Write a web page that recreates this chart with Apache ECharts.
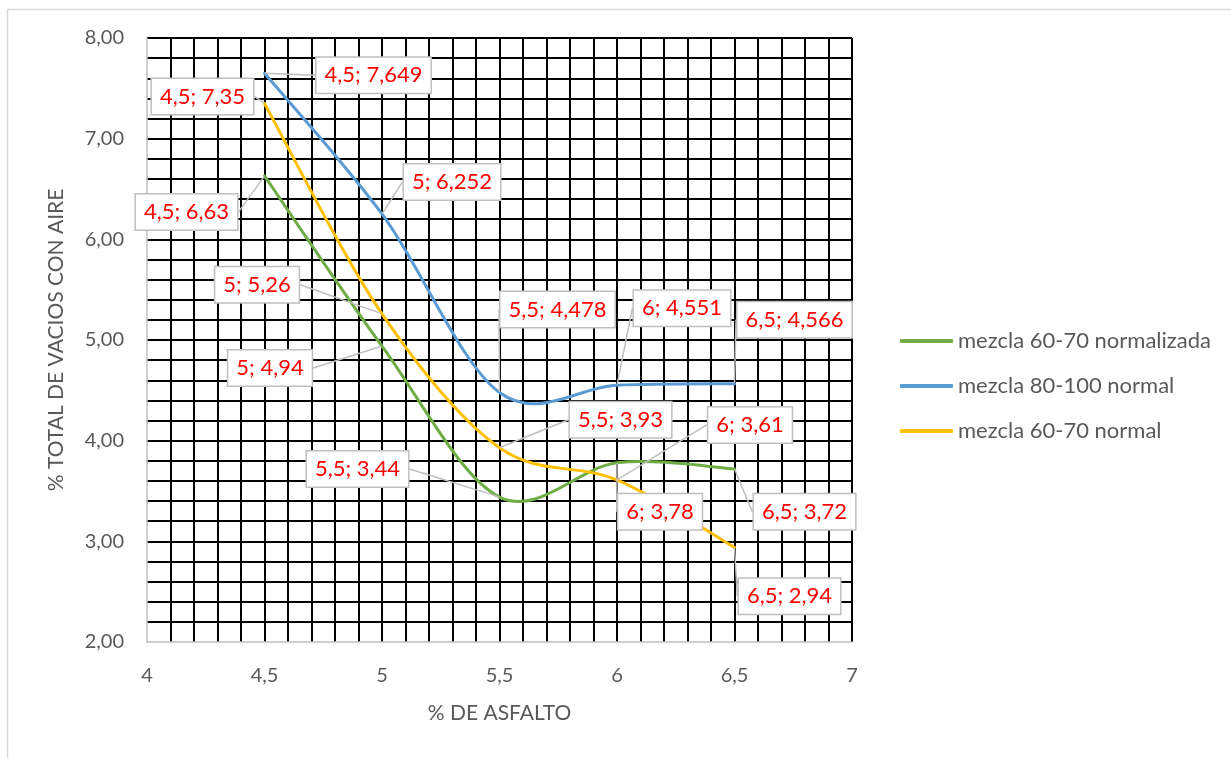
<!DOCTYPE html>
<html><head><meta charset="utf-8">
<script src="https://cdn.jsdelivr.net/npm/echarts@6/dist/echarts.min.js"></script>
<style>html,body{margin:0;padding:0;background:#fff}#c{width:1231px;height:758px}</style>
</head><body><div id="c"></div>
<script>
// ---- data ----
const asfalto = [4.5, 5, 5.5, 6, 6.5];
const seriesNames = ['mezcla 60-70 normalizada', 'mezcla 80-100 normal', 'mezcla 60-70 normal'];
const normalizada6070 = [6.63, 4.94, 3.44, 3.78, 3.72];
const normal80100 = [7.649, 6.252, 4.478, 4.551, 4.566];
const normal6070 = [7.35, 5.26, 3.93, 3.61, 2.94];
const xTicks = [4, 4.5, 5, 5.5, 6, 6.5, 7];
const yTicks = [2, 3, 4, 5, 6, 7, 8];

// label callout offsets (px, label centre relative to point) - layout only
const labelOffsets = [
  [[-78, 36], [-112, 22], [-142, -28], [43, 49], [70, 43]],
  [[109, 2], [70, -32], [58, -83], [65, -77], [60, -64]],
  [[-62, -7], [-125, -29], [121, -28], [133, -55], [55, 49]]
];
const colors = ['#70ad47', '#5b9bd5', '#ffc000'];
const FONT = 'Lato';
const TXT = '#595959';
const comma = v => String(v).replace('.', ',');

// Excel-style smoothed line (Catmull-Rom bezier) through points mapped by the axes
function smoothPath(pts) {
  let d = 'M' + pts[0][0] + ' ' + pts[0][1];
  for (let i = 0; i < pts.length - 1; i++) {
    const p0 = pts[i - 1] || pts[i], p1 = pts[i], p2 = pts[i + 1], p3 = pts[i + 2] || pts[i + 1];
    const c1 = [p1[0] + (p2[0] - p0[0]) / 6, p1[1] + (p2[1] - p0[1]) / 6];
    const c2 = [p2[0] - (p3[0] - p1[0]) / 6, p2[1] - (p3[1] - p1[1]) / 6];
    d += ' C' + c1.join(' ') + ' ' + c2.join(' ') + ' ' + p2.join(' ');
  }
  return d;
}

function curve(i, vals) {
  return {
    name: seriesNames[i], type: 'custom', silent: true, clip: false, z: 2,
    data: asfalto.map((x, k) => [x, vals[k]]),
    renderItem: (params, api) => {
      if (params.dataIndex !== 0) return null;
      const pts = asfalto.map((x, k) => api.coord([x, vals[k]]));
      return { type: 'path', shape: { pathData: smoothPath(pts) },
        style: { fill: 'none', stroke: colors[i], lineWidth: 3, lineCap: 'round' } };
    },
    itemStyle: { color: colors[i] }
  };
}

function labels(i, vals) {
  return {
    name: seriesNames[i], type: 'line',
    data: asfalto.map((x, k) => [x, vals[k]]),
    symbol: 'circle', symbolSize: 1, showSymbol: true,
    lineStyle: { width: 0, opacity: 0 },
    itemStyle: { color: colors[i] },
    emphasis: { disabled: true },
    label: {
      show: true, color: '#ff0000', fontFamily: FONT, fontSize: 22,
      backgroundColor: '#fff', borderColor: '#bfbfbf', borderWidth: 1.5,
      padding: [7, 8, 6, 8],
      formatter: p => comma(p.value[0]) + '; ' + comma(p.value[1])
    },
    labelLine: { show: true, lineStyle: { color: '#bfbfbf', width: 1.5 } },
    labelLayout: p => {
      const o = labelOffsets[i][p.dataIndex];
      return {
        x: p.rect.x + p.rect.width / 2 + o[0],
        y: p.rect.y + p.rect.height / 2 + o[1],
        align: 'center', verticalAlign: 'middle'
      };
    },
    z: 4
  };
}

const chart = echarts.init(document.getElementById('c'));
chart.setOption({
  animation: false,
  backgroundColor: '#fff',
  graphic: [{ type: 'rect', shape: { x: 7.5, y: 9.5, width: 1240, height: 760 },
    style: { fill: 'none', stroke: '#d9d9d9', lineWidth: 1.5 }, z: -1 }],
  grid: { left: 147, top: 38, width: 705, height: 604 },
  legend: {
    orient: 'vertical', left: 895, top: 325,
    itemWidth: 53, itemHeight: 4, itemGap: 23, icon: 'roundRect',
    itemStyle: { opacity: 1 },
    textStyle: { color: TXT, fontFamily: FONT, fontSize: 22, lineHeight: 22 },
    data: seriesNames
  },
  xAxis: {
    type: 'value', min: xTicks[0], max: xTicks[xTicks.length - 1], interval: 0.5,
    name: '% DE ASFALTO', nameLocation: 'middle', nameGap: 61,
    nameTextStyle: { color: TXT, fontFamily: FONT, fontSize: 21 },
    axisLine: { show: true, lineStyle: { color: '#bfbfbf', width: 1.5 } },
    axisTick: { show: false },
    axisLabel: { color: TXT, fontFamily: FONT, fontSize: 20, margin: 24, formatter: v => comma(v) },
    splitLine: { show: true, showMinLine: false, lineStyle: { color: '#000', width: 2 } },
    minorTick: { show: false, splitNumber: 5 },
    minorSplitLine: { show: true, lineStyle: { color: '#000', width: 2 } }
  },
  yAxis: {
    type: 'value', min: yTicks[0], max: yTicks[yTicks.length - 1], interval: 1,
    name: '% TOTAL DE VACIOS CON AIRE', nameLocation: 'middle', nameGap: 80,
    nameTextStyle: { color: TXT, fontFamily: FONT, fontSize: 21 },
    axisLine: { show: true, lineStyle: { color: '#bfbfbf', width: 1.5 } },
    axisTick: { show: false },
    axisLabel: { color: TXT, fontFamily: FONT, fontSize: 20, margin: 23, formatter: v => v.toFixed(2).replace('.', ',') },
    splitLine: { show: true, showMinLine: false, lineStyle: { color: '#000', width: 2 } },
    minorTick: { show: false, splitNumber: 5 },
    minorSplitLine: { show: true, lineStyle: { color: '#000', width: 2 } }
  },
  series: [
    labels(0, normalizada6070), labels(1, normal80100), labels(2, normal6070),
    curve(0, normalizada6070), curve(1, normal80100), curve(2, normal6070)
  ]
});
</script></body></html>
